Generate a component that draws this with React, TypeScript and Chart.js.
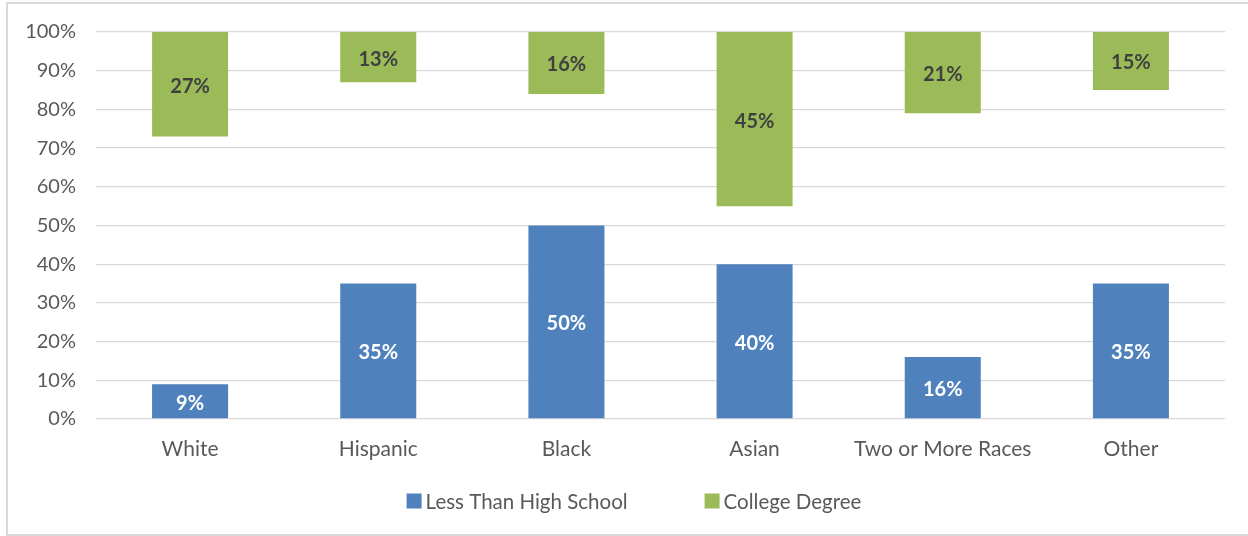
import { useEffect, useRef } from "react";
import { Chart, registerables } from "chart.js";

Chart.register(...registerables);

const categories = ["White", "Hispanic", "Black", "Asian", "Two or More Races", "Other"];
const lessThanHighSchool = [9, 35, 50, 40, 16, 35];
const collegeDegree = [27, 13, 16, 45, 21, 15];
const seriesNames = ["Less Than High School", "College Degree"];
const seriesColors = ["#4F81BD", "#9BBB59"];
const labelColors = ["#FFFFFF", "#404040"];

const FONT = "Lato";
const TEXT_GRAY = "#595959";

// Writes each bar's percentage in the middle of the bar.
const barLabels = {
  id: "barLabels",
  afterDatasetsDraw(chart: any) {
    const ctx = chart.ctx;
    ctx.save();
    ctx.font = `bold 20px ${FONT}`;
    ctx.textAlign = "center";
    ctx.textBaseline = "middle";
    chart.data.datasets.forEach((ds: any, di: number) => {
      const meta = chart.getDatasetMeta(di);
      const values = di === 0 ? lessThanHighSchool : collegeDegree;
      meta.data.forEach((bar: any, i: number) => {
        const { x, y, base } = bar.getProps(["x", "y", "base"], true);
        ctx.fillStyle = labelColors[di];
        ctx.fillText(`${values[i]}%`, x, (y + base) / 2 + 2);
      });
    });
    ctx.restore();
  },
};

// Legend row under the category labels.
const bottomLegend = {
  id: "bottomLegend",
  afterDraw(chart: any) {
    const ctx = chart.ctx;
    ctx.save();
    ctx.font = `20.5px ${FONT}`;
    ctx.textBaseline = "middle";
    const box = 15;
    const gap = 4;
    const itemGap = 77;
    const widths = seriesNames.map((n) => ctx.measureText(n).width);
    const total = widths.reduce((a, w) => a + box + gap + w, 0) + itemGap * (seriesNames.length - 1);
    let x = 634 - total / 2;
    const cy = 501;
    seriesNames.forEach((name, i) => {
      ctx.fillStyle = seriesColors[i];
      ctx.fillRect(x, cy - box / 2, box, box);
      ctx.fillStyle = TEXT_GRAY;
      ctx.fillText(name, x + box + gap, cy + 1);
      x += box + gap + widths[i] + itemGap;
    });
    ctx.restore();
  },
};

export default function App() {
  const canvasRef = useRef<HTMLCanvasElement | null>(null);

  useEffect(() => {
    if (!canvasRef.current) return;
    const chart = new Chart(canvasRef.current, {
      type: "bar",
      data: {
        labels: categories,
        datasets: [
          {
            label: seriesNames[0],
            data: lessThanHighSchool,
            backgroundColor: seriesColors[0],
            grouped: false,
            barPercentage: 0.404,
            categoryPercentage: 1,
          },
          {
            label: seriesNames[1],
            data: collegeDegree.map((v) => [100 - v, 100]),
            backgroundColor: seriesColors[1],
            grouped: false,
            barPercentage: 0.404,
            categoryPercentage: 1,
          },
        ],
      } as any,
      options: {
        responsive: false,
        animation: false,
        layout: { padding: { top: 31, right: 23, bottom: 57, left: 0 } },
        plugins: {
          legend: { display: false },
          tooltip: { enabled: false },
        },
        scales: {
          x: {
            grid: { display: false },
            border: { display: false },
            ticks: {
              color: TEXT_GRAY,
              font: { family: FONT, size: 21 },
              padding: 10,
              maxRotation: 0,
              autoSkip: false,
            },
            afterFit: (scale: any) => {
              scale.height = 60;
            },
          },
          y: {
            min: 0,
            max: 100,
            grid: { color: "#D9D9D9", lineWidth: 1.3, drawTicks: false },
            border: { display: false },
            ticks: {
              stepSize: 10,
              color: TEXT_GRAY,
              font: { family: FONT, size: 20 },
              padding: 20,
              callback: (v: any) => `${v}%`,
            },
            afterFit: (scale: any) => {
              scale.width = 96;
            },
          },
        },
      },
      plugins: [barLabels, bottomLegend],
    });
    return () => chart.destroy();
  }, []);

  return (
    <div style={{ position: "fixed", left: 0, top: 0, width: 1248, height: 536, overflow: "hidden", background: "#fff" }}>
      <canvas ref={canvasRef} width={1248} height={536} style={{ display: "block" }} />
      <div
        style={{
          position: "absolute",
          left: 6,
          top: 2,
          width: 1248,
          height: 530,
          borderTop: "2px solid #D9D9D9",
          borderLeft: "2px solid #D9D9D9",
          borderBottom: "2px solid #D9D9D9",
          pointerEvents: "none",
        }}
      />
    </div>
  );
}
